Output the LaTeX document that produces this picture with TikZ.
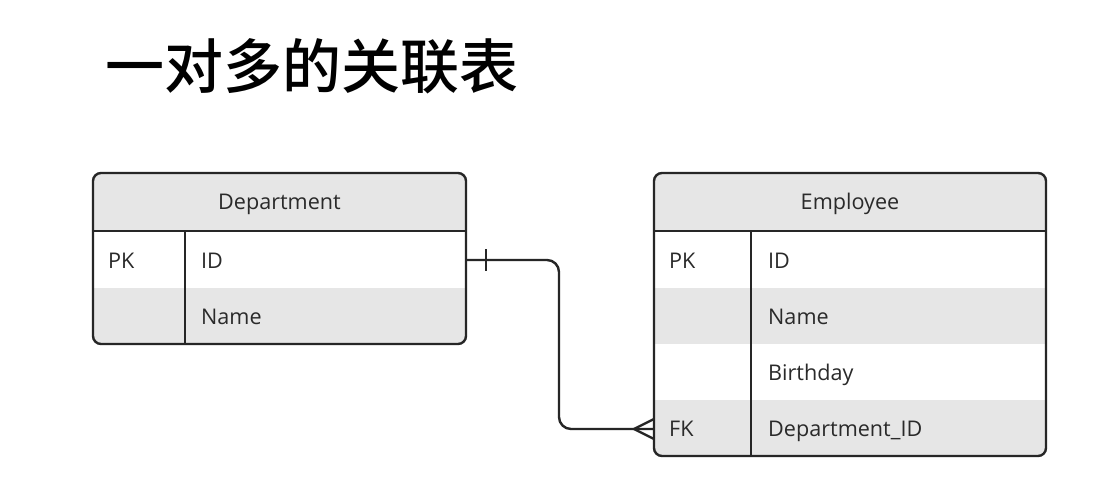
\documentclass[tikz,border=0pt]{standalone}
\usepackage{fontspec}
\setmainfont{Open Sans}
\newfontfamily\cjk{Noto Sans CJK SC}[BoldFont={Noto Sans CJK SC Medium}]
\usetikzlibrary{calc}
\definecolor{rowgrey}{HTML}{E6E6E6}
\definecolor{linec}{HTML}{262626}
\definecolor{txt}{HTML}{2A2A2A}
\tikzset{
  border/.style={draw=linec, line width=2.4pt, rounded corners=8pt},
  grid/.style={draw=linec, line width=2.4pt},
  cell/.style={font=\fontsize{21.6}{26}\selectfont, text=txt, anchor=base west, inner sep=0pt},
  head/.style={font=\fontsize{21.6}{26}\selectfont, text=txt, anchor=base, inner sep=0pt},
  conn/.style={draw=linec, line width=2.4pt, rounded corners=12pt},
  tick/.style={draw=linec, line width=2.4pt}
}
\begin{document}
\begin{tikzpicture}[x=1pt,y=-1pt]
\useasboundingbox (0,0) rectangle (1110,484);
\fill[white] (0,0) rectangle (1110,484);
% title
\node[font=\cjk\bfseries\fontsize{59}{64}\selectfont, anchor=west, inner sep=0pt] (title) at (105,66) {一对多的关联表};

% Department table
\begin{scope}
\clip[rounded corners=8pt] (93,173) rectangle (466,344);
\fill[rowgrey] (93,173) rectangle (466,231);
\fill[rowgrey] (93,288) rectangle (466,344);
\end{scope}
\draw[border] (93,173) rectangle (466,344);
\draw[grid] (93,231) -- (466,231);
\draw[grid] (185,231) -- (185,344);
\node[head] (dtitle) at (279.5,209) {Department};
\node[cell] (dpk) at (108,268) {PK};
\node[cell] (did) at (201,268) {ID};
\node[cell] (dname) at (201,324) {Name};
\coordinate (dIDend) at (466,260);

% Employee table
\begin{scope}
\clip[rounded corners=8pt] (654,173) rectangle (1046,456);
\fill[rowgrey] (654,173) rectangle (1046,231);
\fill[rowgrey] (654,288) rectangle (1046,344);
\fill[rowgrey] (654,400) rectangle (1046,456);
\end{scope}
\draw[border] (654,173) rectangle (1046,456);
\draw[grid] (654,231) -- (1046,231);
\draw[grid] (751,231) -- (751,456);
\node[head] (etitle) at (850,209) {Employee};
\node[cell] (epk) at (669,268) {PK};
\node[cell] (eid) at (768,268) {ID};
\node[cell] (ename) at (768,324) {Name};
\node[cell] (ebirth) at (768,380) {Birthday};
\node[cell] (efk) at (669,436) {FK};
\node[cell] (edid) at (768,436) {Department\_ID};
\coordinate (eFKend) at (654,429);

% connector
\coordinate (bend) at (559,0);
\draw[conn] (dIDend) -| (bend |- eFKend) -- (eFKend);
% one mark
\draw[tick] ($(dIDend)+(20,-11)$) -- ($(dIDend)+(20,11)$);
% crow's foot
\draw[tick] ($(eFKend)+(0,-10)$) -- ($(eFKend)+(-20,0)$) -- ($(eFKend)+(0,10)$);
\end{tikzpicture}
\end{document}
